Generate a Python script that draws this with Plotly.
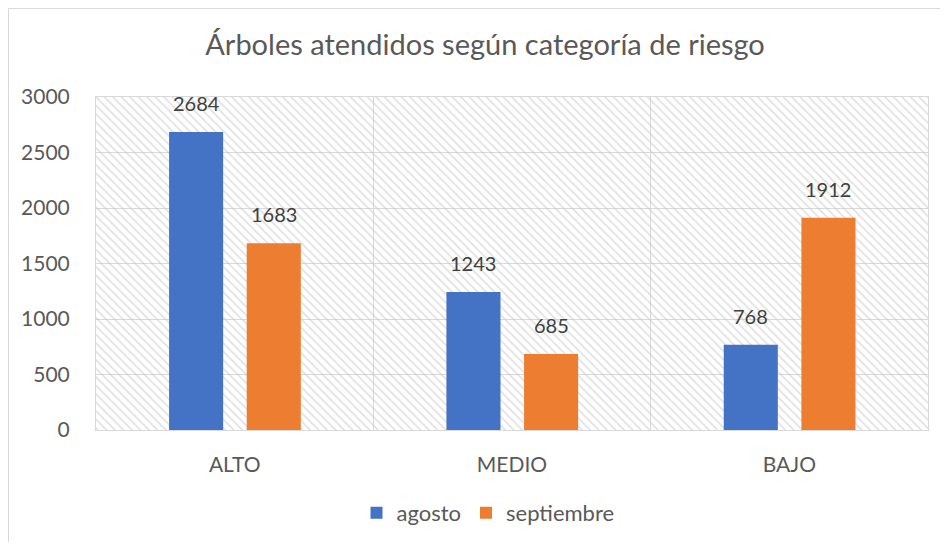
import plotly.graph_objects as go

categories = ["ALTO", "MEDIO", "BAJO"]
agosto = [2684, 1243, 768]
septiembre = [1683, 685, 1912]
series_names = ["agosto", "septiembre"]
y_ticks = [0, 500, 1000, 1500, 2000, 2500, 3000]
title_text = "Árboles atendidos según categoría de riesgo"

BLUE = "#4472C4"
ORANGE = "#ED7D31"
FONT = "Lato, 'Open Sans', sans-serif"
ymax = y_ticks[-1]

# page body has an 8px margin, so figure coords = window coords - 8
W, H = 932, 534
L, R, T, B = 88, 12, 89, 112
pw, ph = W - L - R, H - T - B

bar_w = 0.195
centers = [-0.139, 0.141]

fig = go.Figure()

# hatched plot-area background
fig.add_trace(go.Bar(
    x=[categories[len(categories) // 2]], y=[ymax], width=[len(categories)],
    marker=dict(color="rgba(0,0,0,0)", line=dict(width=0),
                pattern=dict(shape="\\", fgcolor="#c4c4c4", bgcolor="rgba(0,0,0,0)",
                             size=6, solidity=0.3)),
    hoverinfo="skip", showlegend=False,
))

for name, vals, col, c in zip(series_names, [agosto, septiembre], [BLUE, ORANGE], centers):
    fig.add_trace(go.Bar(
        name=name, x=categories, y=vals, marker=dict(color=col, line=dict(width=0)),
        width=[bar_w] * len(categories), offset=[c - bar_w / 2] * len(categories),
    ))
    for i, v in enumerate(vals):
        fig.add_annotation(x=i + c, y=v, text=str(v), showarrow=False, yanchor="bottom",
                           yshift=15, font=dict(family=FONT, size=20, color="#404040"))

fig.update_layout(
    width=W, height=H, barmode="overlay",
    margin=dict(l=L, r=R, t=T, b=B, autoexpand=False),
    paper_bgcolor="white", plot_bgcolor="white",
    title=dict(text=title_text, x=477 / W, xanchor="center", xref="container",
               y=1 - 37 / H, yanchor="middle", yref="container",
               font=dict(family=FONT, size=29, color="#595959")),
    legend=dict(orientation="h", x=(480 - L) / pw, xanchor="center", xref="paper",
                y=-(505 - (T + ph)) / ph, yanchor="middle", yref="paper",
                font=dict(family=FONT, size=22, color="#595959"),
                itemwidth=30, traceorder="normal"),
    font=dict(family=FONT, color="#595959"),
)
fig.update_xaxes(type="category", categoryorder="array", categoryarray=categories,
                 tickson="boundaries", showgrid=True, gridcolor="#d9d9d9",
                 ticks="", ticklabelstandoff=16,
                 showline=True, linecolor="#d9d9d9", mirror=True, automargin=False,
                 tickfont=dict(family=FONT, size=21, color="#595959"), range=[-0.5, 2.5])
fig.update_yaxes(range=[0, ymax], tickvals=y_ticks, showgrid=True, gridcolor="#d9d9d9",
                 ticks="outside", ticklen=21, tickcolor="rgba(0,0,0,0)",
                 showline=True, linecolor="#d9d9d9", mirror=True, zeroline=False,
                 automargin=False,
                 tickfont=dict(family=FONT, size=21, color="#595959"))

# outer chart border
fig.add_shape(type="rect", xref="paper", yref="paper",
              x0=(0.5 - L) / pw, x1=(W + 10 - L) / pw,
              y0=-(H + 10 - (T + ph)) / ph, y1=(T + ph - 0.5) / ph,
              line=dict(color="#d9d9d9", width=1), fillcolor="rgba(0,0,0,0)", layer="below")

fig.write_html("out.html")
